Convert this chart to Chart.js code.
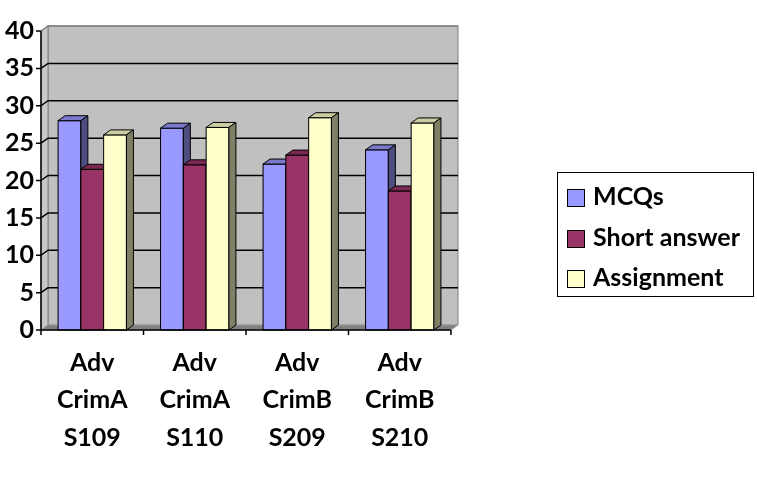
<!DOCTYPE html>
<html>
<head>
<meta charset="utf-8">
<script src="https://cdn.jsdelivr.net/npm/chart.js@4"></script>
<style>
  html, body { margin: 0; padding: 0; background: #fff; }
  #wrap { position: relative; width: 757px; height: 480px; }
  #legend {
    position: absolute; left: 557px; top: 172px; width: 195px; height: 123px;
    border: 1.5px solid #000; font-family: Lato, sans-serif; font-weight: bold;
    font-size: 25px; color: #000;
  }
  .item { position: absolute; left: 9px; height: 30px; line-height: 30px; white-space: nowrap; }
  .item span.box {
    display: inline-block; width: 16px; height: 16px; border: 1.5px solid #000;
    vertical-align: -2px; margin-right: 8px;
  }
</style>
</head>
<body>
<div id="wrap">
  <canvas id="chart" width="757" height="480"></canvas>
  <div id="legend"></div>
</div>
<script>
// 값은 그림에서 읽음
const categories = [['Adv', 'CrimA', 'S109'], ['Adv', 'CrimA', 'S110'], ['Adv', 'CrimB', 'S209'], ['Adv', 'CrimB', 'S210']];
const seriesNames = ['MCQs', 'Short answer', 'Assignment'];
const mcqs = [28, 27, 22.2, 24.1];
const shortAnswer = [21.5, 22.1, 23.4, 18.6];
const assignment = [26.1, 27.1, 28.4, 27.7];
const yTicks = [0, 5, 10, 15, 20, 25, 30, 35, 40];

const fronts = ['#9999ff', '#993366', '#ffffcc'];
const tops = ['#7a7acc', '#7a2952', '#cccca3'];
const sides = ['#4d4d80', '#4d1a33', '#808066'];
const dx = 7, dy = 5;

// 3D 벽, 바닥, 격자선
const walls = {
  id: 'walls',
  beforeDatasetsDraw(chart) {
    const ctx = chart.ctx;
    const { left, right, top, bottom } = chart.chartArea;
    const y = chart.scales.y;
    ctx.save();
    ctx.lineWidth = 1;
    ctx.strokeStyle = '#808080';
    ctx.fillStyle = '#c0c0c0';
    ctx.fillRect(left + dx, top - dy, right - left, bottom - top);
    ctx.strokeRect(left + dx, top - dy, right - left, bottom - top);
    ctx.fillStyle = '#c8c8c8';
    ctx.beginPath();
    ctx.moveTo(left, top); ctx.lineTo(left + dx, top - dy);
    ctx.lineTo(left + dx, bottom - dy); ctx.lineTo(left, bottom);
    ctx.closePath(); ctx.fill(); ctx.stroke();
    ctx.fillStyle = '#808080';
    ctx.beginPath();
    ctx.moveTo(left, bottom); ctx.lineTo(left + dx, bottom - dy);
    ctx.lineTo(right + dx, bottom - dy); ctx.lineTo(right, bottom);
    ctx.closePath(); ctx.fill();
    ctx.strokeStyle = '#a0a0a0'; ctx.stroke();

    ctx.lineWidth = 1.5;
    yTicks.forEach(v => {
      if (v === 0) return;
      const py = y.getPixelForValue(v);
      ctx.strokeStyle = v === 40 ? '#808080' : '#000';
      ctx.beginPath();
      ctx.moveTo(left, py); ctx.lineTo(left + dx, py - dy); ctx.lineTo(right + dx, py - dy);
      ctx.stroke();
    });
    ctx.restore();
  },
  // 막대 앞면, 윗면, 옆면을 계열 순서대로 다시 그림
  afterDatasetsDraw(chart) {
    const ctx = chart.ctx;
    ctx.save();
    ctx.lineWidth = 1;
    ctx.strokeStyle = '#000';
    chart.data.datasets.forEach((ds, i) => {
      chart.getDatasetMeta(i).data.forEach(bar => {
        const l = bar.x - bar.width / 2, r = bar.x + bar.width / 2;
        const t = bar.y, b = bar.base;
        ctx.fillStyle = fronts[i];
        ctx.fillRect(l, t, r - l, b - t);
        ctx.strokeRect(l, t, r - l, b - t);
        ctx.fillStyle = tops[i];
        ctx.beginPath();
        ctx.moveTo(l, t); ctx.lineTo(l + dx, t - dy); ctx.lineTo(r + dx, t - dy); ctx.lineTo(r, t);
        ctx.closePath(); ctx.fill(); ctx.stroke();
        ctx.fillStyle = sides[i];
        ctx.beginPath();
        ctx.moveTo(r, t); ctx.lineTo(r + dx, t - dy); ctx.lineTo(r + dx, b - dy); ctx.lineTo(r, b);
        ctx.closePath(); ctx.fill(); ctx.stroke();
      });
    });
    ctx.restore();
  },
  afterDraw(chart) {
    const ctx = chart.ctx;
    const { left, right, top, bottom } = chart.chartArea;
    const y = chart.scales.y;
    ctx.save();
    ctx.strokeStyle = '#000';
    ctx.lineWidth = 1.5;
    ctx.beginPath();
    ctx.moveTo(left, top); ctx.lineTo(left, bottom); ctx.lineTo(right, bottom);
    yTicks.forEach(v => {
      const py = y.getPixelForValue(v);
      ctx.moveTo(left - 5, py); ctx.lineTo(left, py);
    });
    const step = (right - left) / categories.length;
    for (let k = 0; k <= categories.length; k++) {
      ctx.moveTo(left + k * step, bottom); ctx.lineTo(left + k * step, bottom + 5);
    }
    ctx.stroke();
    ctx.restore();
  }
};

const values = [mcqs, shortAnswer, assignment];

new Chart(document.getElementById('chart'), {
  type: 'bar',
  data: {
    labels: categories,
    datasets: seriesNames.map((name, i) => ({
      label: name,
      data: values[i],
      backgroundColor: fronts[i],
      borderColor: '#000',
      borderWidth: 1,
      borderSkipped: false,
      categoryPercentage: 0.667,
      barPercentage: 1.0
    }))
  },
  options: {
    responsive: false,
    animation: false,
    layout: { padding: { top: 31, right: 306, bottom: 0, left: 0 } },
    plugins: { legend: { display: false }, tooltip: { enabled: false } },
    scales: {
      x: {
        grid: { display: false, drawTicks: false },
        border: { display: false },
        ticks: {
          color: '#000', padding: 14, maxRotation: 0,
          font: { family: 'Lato', weight: 'bold', size: 25, lineHeight: 1.5 }
        },
        afterFit(scale) { scale.height = 150; }
      },
      y: {
        min: 0, max: 40,
        grid: { display: false, drawTicks: false },
        border: { display: false },
        ticks: {
          stepSize: 5, color: '#000', padding: 7,
          font: { family: 'Lato', weight: 'bold', size: 25 }
        },
        afterFit(scale) { scale.width = 41; }
      }
    }
  },
  plugins: [walls]
});

// 범례
const legend = document.getElementById('legend');
const rowTops = [7, 48, 88];
seriesNames.forEach((name, i) => {
  const d = document.createElement('div');
  d.className = 'item';
  d.style.top = rowTops[i] + 'px';
  d.innerHTML = '<span class="box" style="background:' + fronts[i] + '"></span>' + name;
  legend.appendChild(d);
});
</script>
</body>
</html>
